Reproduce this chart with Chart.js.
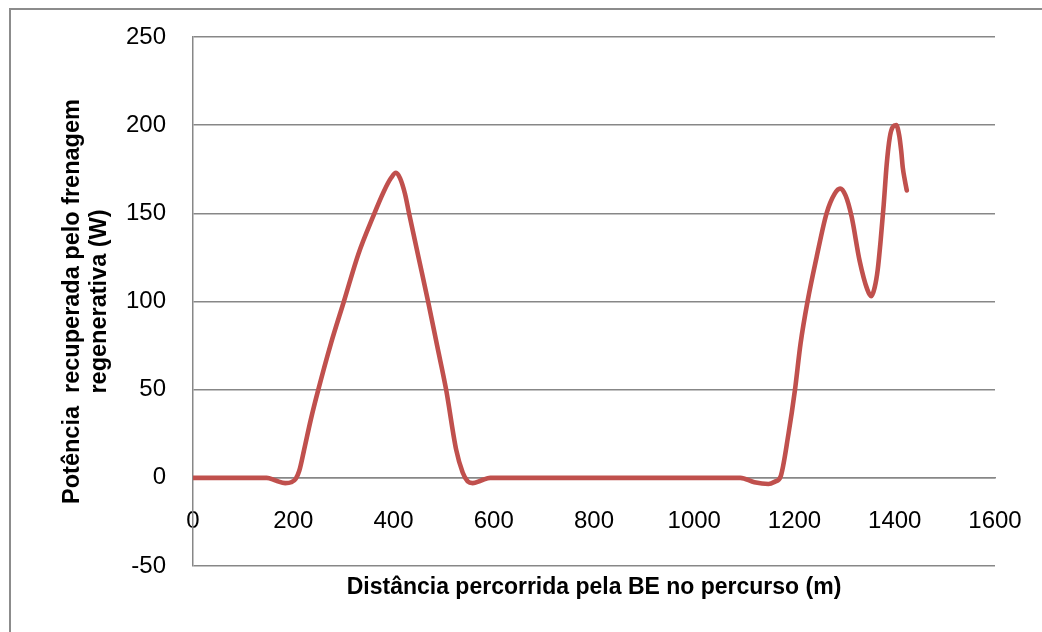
<!DOCTYPE html>
<html>
<head>
<meta charset="utf-8">
<script src="https://cdn.jsdelivr.net/npm/chart.js@4/dist/chart.umd.min.js"></script>
<style>
  body { margin: 0; background: #fff; }
  #wrap { position: relative; width: 1042px; height: 632px; overflow: hidden; }
  #frame {
    position: absolute; left: 9px; top: 8px; width: 1100px; height: 700px;
    border-left: 2px solid #8c8c8c; border-top: 2px solid #8c8c8c;
  }
  canvas { position: absolute; left: 0; top: 0; }
</style>
</head>
<body>
<div id="wrap">
  <div id="frame"></div>
  <canvas id="chart" width="1042" height="632"></canvas>
</div>
<script>
// Distance along the route (m) and recovered power (W)
const distance = [
  0, 50, 100, 147, 165, 184, 196, 205, 212, 221, 235, 250, 275, 301, 330,
  359, 380, 395, 405, 413, 423, 431, 450, 469, 487, 505, 525, 538, 548,
  558, 575, 593, 650, 700, 800, 900, 1000, 1050, 1092, 1120, 1148, 1162,
  1172, 1188, 1201, 1212, 1226, 1244, 1264, 1280, 1291, 1302, 1314, 1330,
  1345, 1353, 1360, 1366, 1372, 1378, 1384, 1390, 1396, 1403, 1409, 1413,
  1416, 1420, 1424
];
const power = [
  0, 0, 0, 0, -1.5, -3, -2.5, -0.5, 4, 15, 33, 50, 76, 100, 127,
  148, 162, 170, 173, 170, 161, 150, 125, 100, 75, 50, 16, 3, -2,
  -3, -1.5, 0, 0, 0, 0, 0, 0, 0, 0, -2.5, -3.5, -2,
  0.5, 25, 50, 76, 100, 125, 150, 161, 164, 160, 148, 123,
  107, 103, 108, 118, 135, 155, 178, 193, 199, 200, 194, 185,
  176, 169, 163
];
const xTicks = [0, 200, 400, 600, 800, 1000, 1200, 1400, 1600];
const yTicks = [-50, 0, 50, 100, 150, 200, 250];

const xTitle = "Distância percorrida pela BE no percurso (m)";
const yTitle = ["Potência  recuperada pelo frenagem", "regenerativa (W)"];

const gridColor = "#878787";
const tickFont = { family: "'Liberation Sans', Arial, sans-serif", size: 24 };
const titleFont = { family: "'Liberation Sans', Arial, sans-serif", size: 23, weight: "bold", lineHeight: 1.17 };
const yTitleFont = { family: "'Liberation Sans', Arial, sans-serif", size: 23.5, weight: "bold", lineHeight: 1.15 };

const points = distance.map((d, i) => ({ x: d, y: power[i] }));

new Chart(document.getElementById("chart"), {
  type: "line",
  data: {
    datasets: [
      {
        data: points,
        borderColor: "#C0504D",
        borderWidth: 4.6,
        pointRadius: 0,
        fill: false,
        cubicInterpolationMode: "monotone",
        borderCapStyle: "round",
        borderJoinStyle: "round",
      },
    ],
  },
  options: {
    responsive: false,
    devicePixelRatio: 1,
    animation: false,
    layout: { padding: { top: 37, right: 47, bottom: 0, left: 0 } },
    plugins: { legend: { display: false }, tooltip: { enabled: false } },
    scales: {
      x: {
        type: "linear",
        position: { y: 0 },
        min: 0,
        max: 1600,
        afterBuildTicks: (scale) => {
          scale.ticks = xTicks.map((v) => ({ value: v }));
        },
        afterFit: (scale) => {
          scale.paddingLeft = 0;
          scale.paddingRight = 0;
        },
        grid: { display: false, drawTicks: false },
        border: { display: true, color: gridColor, width: 1.5 },
        ticks: {
          color: "#000",
          font: tickFont,
          padding: 29,
          maxRotation: 0,
          autoSkip: false,
          callback: (v) => String(v),
        },
      },
      xTitle: {
        type: "linear",
        position: "bottom",
        min: 0,
        max: 1600,
        afterFit: (scale) => {
          scale.height = 66;
          scale.paddingLeft = 0;
          scale.paddingRight = 0;
        },
        grid: { display: false, drawTicks: false },
        border: { display: false },
        ticks: { display: false },
        title: { display: true, text: xTitle, color: "#000", font: titleFont, padding: { top: 0, bottom: 31 } },
      },
      y: {
        min: -50,
        max: 250,
        afterBuildTicks: (scale) => {
          scale.ticks = yTicks.map((v) => ({ value: v }));
        },
        afterFit: (scale) => {
          scale.width = 193;
          scale.paddingTop = 0;
          scale.paddingBottom = 0;
        },
        grid: { color: gridColor, lineWidth: 1.5, drawTicks: false },
        border: { display: true, color: gridColor, width: 1.5 },
        ticks: { color: "#000", font: tickFont, padding: 27, callback: (v) => String(v) },
        title: { display: true, text: yTitle, color: "#000", font: yTitleFont, padding: { top: 59, bottom: 0 } },
      },
    },
  },
});
</script>
</body>
</html>
